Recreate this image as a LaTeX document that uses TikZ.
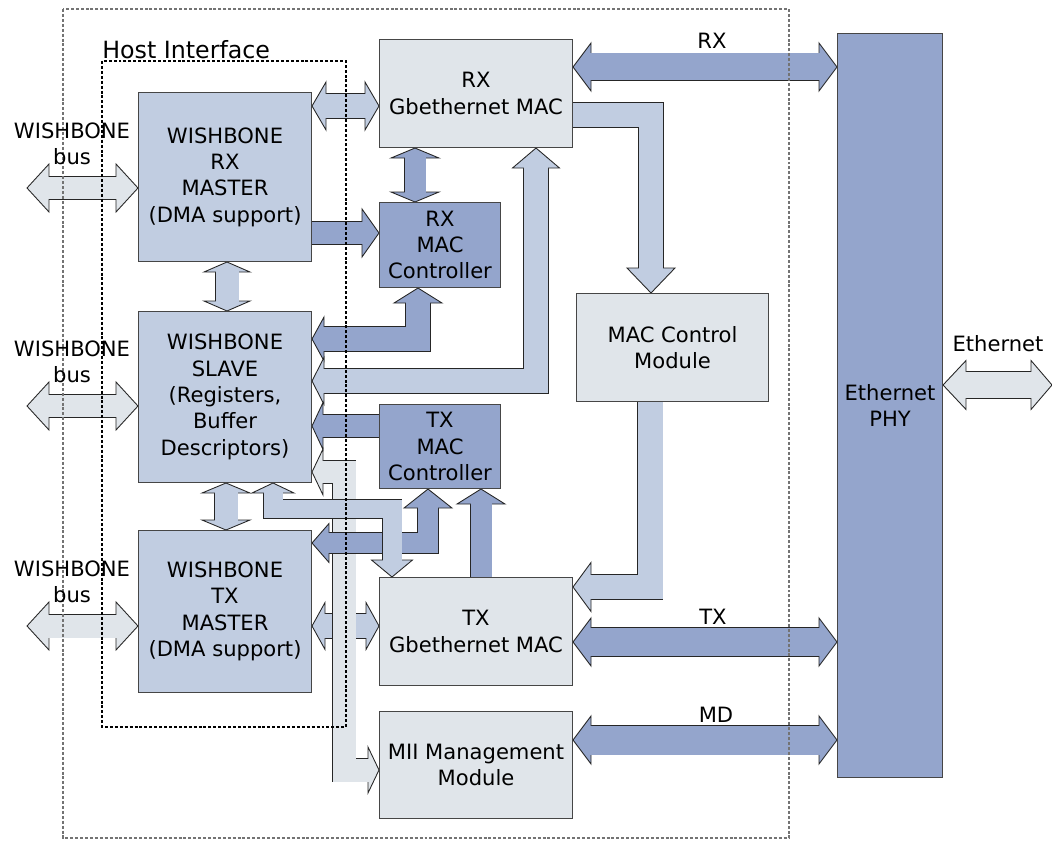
\documentclass[tikz,border=0pt]{standalone}
\usepackage{fontspec}
\setmainfont{DejaVu Sans}
\usetikzlibrary{calc}
\usetikzlibrary{backgrounds}
\definecolor{blLight}{RGB}{224,229,234}
\definecolor{blMid}{RGB}{193,205,225}
\definecolor{blDark}{RGB}{148,165,204}
\definecolor{blEdge}{RGB}{70,70,70}
\tikzset{
  block/.style = {draw=blEdge, line width=0.6pt, fill=#1, anchor=north west, align=center, inner sep=0pt},
  outline/.style = {draw=black!85, line width=0.5pt, line join=miter},
  caption/.style = {align=center, inner sep=0pt},
  dashframe/.style = {color=#1, line width=0.6pt, dash pattern=on 1.7pt off 1.1pt}
}
\newcommand{\fatarrow}[6]{%
  % #1: fill colour, #2: shaft width
  % #3, #4: head length at start / end (0cm = no head)
  % #5: shaft path (tip to tip), #6: heads
  \def\fafill{#1}%
  \draw[outline, line width=#2+1pt, shorten <=#3, shorten >=#4] #5;
  #6
  \draw[draw=#1, line width=#2, line join=miter, shorten <=#3-0.8pt, shorten >=#4-0.8pt] #5;
}
\newcommand{\ahead}[4][0.48cm]{%
  % #1: half width, #2: tip, #3: point behind the head, #4: length
  \coordinate (hb) at ($(#2)!#4!(#3)$);
  \filldraw[outline, fill=\fafill] (#2) -- ($(hb)!#1!90:(#2)$) -- ($(hb)!#1!-90:(#2)$) -- cycle;
}

\begin{document}
\begin{tikzpicture}[x=0.02cm, y=-0.02cm, font=\fontsize{12}{15}\selectfont]
    \useasboundingbox (0,0) rectangle (1052,841);

    %==== Blocks ====
    \node[block=blMid, minimum width=3.46cm, minimum height=3.38cm] (wbrx) at (138,92) {WISHBONE\\RX\\MASTER\\(DMA support)};
    \node[block=blMid, minimum width=3.46cm, minimum height=3.42cm] (wbsl) at (138,311) {WISHBONE\\SLAVE\\(Registers,\\Buffer\\Descriptors)};
    \node[block=blMid, minimum width=3.46cm, minimum height=3.24cm] (wbtx) at (138,530) {WISHBONE\\TX\\MASTER\\(DMA support)};
    \node[block=blLight, minimum width=3.86cm, minimum height=2.16cm] (rxmac) at (379,39) {RX\\Gbethernet MAC};
    \node[block=blDark, minimum width=2.42cm, minimum height=1.70cm] (rxctl) at (379,202) {RX\\MAC\\Controller};
    \node[block=blDark, minimum width=2.42cm, minimum height=1.68cm] (txctl) at (379,404) {TX\\MAC\\Controller};
    \node[block=blLight, minimum width=3.84cm, minimum height=2.16cm] (macctl) at (576,293) {MAC Control\\Module};
    \node[block=blLight, minimum width=3.86cm, minimum height=2.16cm] (txmac) at (379,577) {TX\\Gbethernet MAC};
    \node[block=blLight, minimum width=3.86cm, minimum height=2.14cm] (mii) at (379,711) {MII Management\\Module};
    \node[block=blDark, minimum width=2.10cm, minimum height=14.88cm] (phy) at (837,33) {Ethernet\\PHY};

    %==== Coordinates ====
    \coordinate (busrx) at (27,188);   \coordinate (busrxE) at (wbrx.west |- busrx);
    \coordinate (bussl) at (27,406);   \coordinate (busslE) at (wbsl.west |- bussl);
    \coordinate (bustx) at (27,626);   \coordinate (bustxE) at (wbtx.west |- bustx);
    \coordinate (eth) at (phy.east |- 0,385);  \coordinate (ethout) at (1052,385);
    \coordinate (rxA) at (rxmac.east |- 0,67); \coordinate (rxB) at (phy.west |- rxA);
    \coordinate (txA) at (txmac.east |- 0,642); \coordinate (txB) at (phy.west |- txA);
    \coordinate (mdA) at (mii.east |- 0,740);  \coordinate (mdB) at (phy.west |- mdA);
    \coordinate (wrA) at (wbrx.east |- 0,106); \coordinate (wrB) at (rxmac.west |- wrA);
    \coordinate (rcA) at (rxmac.south -| 415,0); \coordinate (rcB) at (rxctl.north -| rcA);
    \coordinate (wcA) at (wbrx.east |- 0,233); \coordinate (wcB) at (rxctl.west |- wcA);
    \coordinate (rmA) at (rxmac.east |- 0,115); \coordinate (rmK) at (651,115); \coordinate (rmB) at (macctl.north -| rmK);
    \coordinate (mtA) at (macctl.south -| 650,0); \coordinate (mtK) at (650,587); \coordinate (mtB) at (txmac.east |- mtK);
    \coordinate (ssA) at (wbrx.south -| 227,0); \coordinate (ssB) at (wbsl.north -| ssA);
    \coordinate (stA) at (wbsl.south -| 226,0); \coordinate (stB) at (wbtx.north -| stA);
    \coordinate (scA) at (wbsl.east |- 0,339); \coordinate (scK) at (418,339); \coordinate (scB) at (rxctl.south -| scK);
    \coordinate (srA) at (wbsl.east |- 0,381); \coordinate (srK) at (536,381); \coordinate (srB) at (rxmac.south -| srK);
    \coordinate (tsA) at (txctl.west |- 0,426); \coordinate (tsB) at (wbsl.east |- tsA);
    \coordinate (smA) at (wbsl.east |- 0,472); \coordinate (smK) at (344,472); \coordinate (smL) at (344,770); \coordinate (smB) at (mii.west |- smL);
    \coordinate (ttA) at (wbtx.east |- 0,543); \coordinate (ttK) at (428,543); \coordinate (ttB) at (txctl.south -| ttK);
    \coordinate (sxA) at (wbsl.south -| 273,0); \coordinate (sxK) at (273,509); \coordinate (sxL) at (392,509); \coordinate (sxB) at (txmac.north -| sxL);
    \coordinate (xcA) at (txmac.north -| 481,0); \coordinate (xcB) at (txctl.south -| xcA);
    \coordinate (wtA) at (wbtx.east |- 0,626); \coordinate (wtB) at (txmac.west |- wtA);

    %==== Arrows ====
    \begin{pgfonlayer}{background}
        % WISHBONE buses
        \fatarrow{blLight}{0.46cm}{0.44cm}{0.44cm}{(busrx) -- (busrxE)}{\ahead{busrx}{busrxE}{0.44cm}\ahead{busrxE}{busrx}{0.44cm}}
        \fatarrow{blLight}{0.46cm}{0.44cm}{0.44cm}{(bussl) -- (busslE)}{\ahead{bussl}{busslE}{0.44cm}\ahead{busslE}{bussl}{0.44cm}}
        \fatarrow{blLight}{0.46cm}{0.44cm}{0.44cm}{(bustx) -- (bustxE)}{\ahead{bustx}{bustxE}{0.44cm}\ahead{bustxE}{bustx}{0.44cm}}

        % Ethernet
        \fatarrow{blLight}{0.54cm}{0.46cm}{0.42cm}{(eth) -- (ethout)}{\ahead[0.49cm]{eth}{ethout}{0.46cm}\ahead[0.49cm]{ethout}{eth}{0.42cm}}

        % PHY links
        \fatarrow{blDark}{0.54cm}{0.36cm}{0.36cm}{(rxA) -- (rxB)}{\ahead{rxA}{rxB}{0.36cm}\ahead{rxB}{rxA}{0.36cm}}
        \fatarrow{blDark}{0.58cm}{0.36cm}{0.36cm}{(txA) -- (txB)}{\ahead{txA}{txB}{0.36cm}\ahead{txB}{txA}{0.36cm}}
        \fatarrow{blDark}{0.58cm}{0.36cm}{0.36cm}{(mdA) -- (mdB)}{\ahead{mdA}{mdB}{0.36cm}\ahead{mdB}{mdA}{0.36cm}}

        % RX side
        \fatarrow{blMid}{0.48cm}{0.28cm}{0.28cm}{(wrA) -- (wrB)}{\ahead{wrA}{wrB}{0.28cm}\ahead{wrB}{wrA}{0.28cm}}
        \fatarrow{blDark}{0.42cm}{0.2cm}{0.2cm}{(rcA) -- (rcB)}{\ahead{rcA}{rcB}{0.2cm}\ahead{rcB}{rcA}{0.2cm}}
        \fatarrow{blDark}{0.46cm}{0cm}{0.34cm}{(wcA) -- (wcB)}{\ahead{wcB}{wcA}{0.34cm}}
        \fatarrow{blMid}{0.48cm}{0cm}{0.5cm}{(rmA) -- (rmK) -- (rmB)}{\ahead{rmB}{rmK}{0.5cm}}
        \fatarrow{blMid}{0.5cm}{0cm}{0.36cm}{(mtA) -- (mtK) -- (mtB)}{\ahead[0.49cm]{mtB}{mtK}{0.36cm}}

        % WISHBONE internal
        \fatarrow{blMid}{0.46cm}{0.2cm}{0.2cm}{(ssA) -- (ssB)}{\ahead[0.46cm]{ssA}{ssB}{0.2cm}\ahead[0.46cm]{ssB}{ssA}{0.2cm}}
        \fatarrow{blMid}{0.46cm}{0.2cm}{0.2cm}{(stA) -- (stB)}{\ahead{stA}{stB}{0.2cm}\ahead{stB}{stA}{0.2cm}}
        \fatarrow{blDark}{0.48cm}{0.24cm}{0.3cm}{(scA) -- (scK) -- (scB)}{\ahead[0.44cm]{scA}{scK}{0.24cm}\ahead{scB}{scK}{0.3cm}}
        \fatarrow{blMid}{0.48cm}{0.24cm}{0.4cm}{(srA) -- (srK) -- (srB)}{\ahead[0.47cm]{srA}{srK}{0.24cm}\ahead[0.47cm]{srB}{srK}{0.4cm}}
        \fatarrow{blDark}{0.46cm}{0cm}{0.22cm}{(tsA) -- (tsB)}{\ahead[0.47cm]{tsB}{tsA}{0.22cm}}
        \fatarrow{blDark}{0.42cm}{0cm}{0.3cm}{(xcA) -- (xcB)}{\ahead{xcB}{xcA}{0.3cm}}

        % TX side, crossing
        \fatarrow{blMid}{0.48cm}{0.26cm}{0.26cm}{(wtA) -- (wtB)}{\ahead[0.47cm]{wtA}{wtB}{0.26cm}\ahead[0.47cm]{wtB}{wtA}{0.26cm}}
        \fatarrow{blLight}{0.46cm}{0.22cm}{0.22cm}{(smA) -- (smK) -- (smL) -- (smB)}{\ahead[0.46cm]{smA}{smK}{0.22cm}\ahead[0.46cm]{smB}{smL}{0.22cm}}
        \fatarrow{blDark}{0.4cm}{0.34cm}{0.38cm}{(ttA) -- (ttK) -- (ttB)}{\ahead[0.39cm]{ttA}{ttK}{0.34cm}\ahead{ttB}{ttK}{0.38cm}}
        \fatarrow{blMid}{0.38cm}{0.2cm}{0.34cm}{(sxA) -- (sxK) -- (sxL) -- (sxB)}{\ahead[0.42cm]{sxA}{sxK}{0.2cm}\ahead[0.41cm]{sxB}{sxL}{0.34cm}}
    \end{pgfonlayer}

    %==== Frames ====
    \draw[dashframe=black!55] (63,9) rectangle (789,838);
    \draw[dashframe=black] (102,61) rectangle (346,727);

    %==== Labels ====
    \node[anchor=base west, inner sep=0pt, font=\fontsize{13.5}{16}\selectfont] (hostlbl) at (102,59) {Host Interface};
    \node[caption] (busrxlbl) at (72,144) {WISHBONE\\bus};
    \node[caption] (bussllbl) at (72,362) {WISHBONE\\bus};
    \node[caption] (bustxlbl) at (72,582) {WISHBONE\\bus};
    \node[caption] (ethlbl) at (998,344) {Ethernet};
    \node[caption] (rxlbl) at (712,41) {RX};
    \node[caption] (txlbl) at (713,617) {TX};
    \node[caption] (mdlbl) at (716,715) {MD};
\end{tikzpicture}
\end{document}
